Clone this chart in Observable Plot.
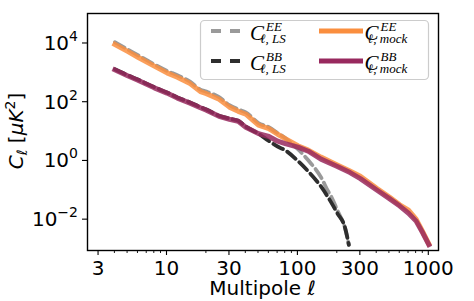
<!DOCTYPE html>
<html><head><meta charset="utf-8">
<script src="https://cdn.jsdelivr.net/npm/d3@7"></script>
<script src="https://cdn.jsdelivr.net/npm/@observablehq/plot@0.6"></script>
<style>
body{margin:0;background:#fff;}
#wrap{position:relative;width:474px;height:301px;}
</style></head><body><div id="wrap"></div>
<script>
// multipoles for the mock spectra
const ellMock = [4,5,6,8,10,12,15,18,20,25,30,35,40,50,60,70,80,100,120,150,200,250,300,400,500,600,700,800,900,1000];
const eeMock = [9.3e3,5.4e3,3.4e3,1.7e3,1000,710,430,230,195,126,68,49,39,16.6,12.6,8.1,5.75,3.3,2.34,1.35,0.72,0.45,0.30,0.117,0.059,0.032,0.021,0.0105,0.0038,0.0015];
const bbMock = [1260,794,562,309,204,138,93,64.6,53.7,33.1,26.3,22.4,14.1,8.5,6.8,4.7,3.9,2.95,2.14,1.15,0.65,0.40,0.25,0.102,0.052,0.029,0.0166,0.0089,0.0035,0.0014];
// large-scale spectra
const ellEELS = [4,5,6,8,10,12,15,18,20,25,30,35,40,50,60,70,80,90,100,120,150,170,180,200,230,245];
const eeLS = [1.1e4,6300,3980,1950,1170,830,500,268,229,148,79,57,45,19.5,14,8.9,6.0,3.8,2.51,1.05,0.28,0.093,0.060,0.021,0.0048,0.0014];
const ellBBLS = [4,5,6,8,10,12,15,18,20,25,30,35,40,50,60,70,80,100,120,150,180,200,230,245];
const bbLS = [1320,832,589,324,214,145,98,68,56,34.7,27.5,23.4,14.8,8.5,4.8,3.1,2.3,1.0,0.44,0.135,0.038,0.0166,0.0050,0.00138];

const xMajor = [3,10,30,100,300,1000];
const xMinor = [4,5,6,7,8,9,20,40,50,60,70,80,90,200,400,500,600,700,800,900];
const yMajor = [1e4,1e2,1e0,1e-2];
const xDomain = [2.47,1186];
const yDomain = [8.9e-4,1.05e5];

const colors = {"EE,LS":"#9a9a9a","BB,LS":"#2e2e2e","EE,mock":"#fa8e3e","BB,mock":"#98295e"};

const toRows = (ls, cs) => ls.map((l,i)=>({l, c:cs[i]}));
const rowsEEmock = toRows(ellMock, eeMock);
const rowsBBmock = toRows(ellMock, bbMock);
const rowsEELS = toRows(ellEELS, eeLS);
const rowsBBLS = toRows(ellBBLS, bbLS);

const sup = s => s.replace("-", "\u2212");

const svg = Plot.plot({
  width:474, height:301,
  marginLeft:87, marginRight:36, marginTop:13, marginBottom:51,
  style:{fontFamily:"DejaVu Sans", fontSize:"20px", color:"black", background:"white"},
  x:{type:"log", domain:xDomain, label:null, axis:null},
  y:{type:"log", domain:yDomain, label:null, axis:null},
  marks:[
    Plot.lineY(rowsEELS, {x:"l", y:"c", stroke:colors["EE,LS"], strokeWidth:3.8, strokeDasharray:"11,5", curve:"monotone-x"}),
    Plot.lineY(rowsBBLS, {x:"l", y:"c", stroke:colors["BB,LS"], strokeWidth:3.8, strokeDasharray:"11,5", curve:"monotone-x"}),
    Plot.lineY(rowsEEmock, {x:"l", y:"c", stroke:colors["EE,mock"], strokeWidth:5, strokeOpacity:0.85, strokeLinecap:"square"}),
    Plot.lineY(rowsBBmock, {x:"l", y:"c", stroke:colors["BB,mock"], strokeWidth:5, strokeOpacity:0.85, strokeLinecap:"square"}),
    Plot.frame({stroke:"black", strokeWidth:1.4})
  ]
});
document.getElementById("wrap").appendChild(svg);

const s = d3.select(svg);
const sx = svg.scale("x"), sy = svg.scale("y");
const X0 = 87, X1 = 474-36, Y0 = 13, Y1 = 301-51;
const ax = s.append("g").attr("font-family","DejaVu Sans");

// x ticks (minor + major) from Plot's x scale
for (const v of xMinor) {
  const px = sx.apply(v);
  ax.append("path").attr("d",`M${px},${Y1}V${Y1+3}`).attr("stroke","black").attr("stroke-width",0.9).attr("fill","none");
}
for (const v of xMajor) {
  const px = sx.apply(v);
  ax.append("path").attr("d",`M${px},${Y1}V${Y1+5}`).attr("stroke","black").attr("stroke-width",1.1).attr("fill","none");
  ax.append("text").attr("x",px).attr("y",Y1+25).attr("text-anchor","middle").attr("font-size",20).attr("fill","black").text(String(v));
}
// y ticks from Plot's y scale
for (const v of yMajor) {
  const py = sy.apply(v);
  const e = Math.round(Math.log10(v));
  ax.append("path").attr("d",`M${X0-5},${py}H${X0}`).attr("stroke","black").attr("stroke-width",1.1).attr("fill","none");
  const t = ax.append("text").attr("x",X0-9).attr("y",py+7).attr("text-anchor","end").attr("font-size",20).attr("fill","black");
  t.append("tspan").text("10");
  t.append("tspan").attr("dy",-9).attr("font-size",14).text(sup(String(e)));
}

// axis labels
const xl = s.append("text").attr("x",(X0+X1)/2).attr("y",295).attr("text-anchor","middle")
  .attr("font-family","DejaVu Sans").attr("font-size",20).attr("fill","black");
xl.append("tspan").text("Multipole ");
xl.append("tspan").attr("font-style","italic").text("ℓ");

const yl = s.append("text").attr("transform","translate(23,131) rotate(-90)").attr("text-anchor","middle")
  .attr("font-family","DejaVu Sans").attr("font-size",20).attr("fill","black");
yl.append("tspan").attr("font-style","italic").text("C");
yl.append("tspan").attr("font-style","italic").attr("font-size",14).attr("dy",4).text("ℓ");
yl.append("tspan").attr("dy",-4).text(" [");
yl.append("tspan").attr("font-style","italic").text("μK");
yl.append("tspan").attr("font-size",14).attr("dy",-8).text("2");
yl.append("tspan").attr("dy",8).text("]");

// legend
const lg = s.append("g");
lg.append("rect").attr("x",200.5).attr("y",20.5).attr("width",228).attr("height",59).attr("rx",4)
  .attr("fill","white").attr("fill-opacity",0.8).attr("stroke","#cccccc").attr("stroke-width",1.2);
const items = [
  {name:"EE,LS", hx:211, tx:257, row:0, dash:true, sup:"EE", sub:"ℓ, LS"},
  {name:"BB,LS", hx:211, tx:257, row:1, dash:true, sup:"BB", sub:"ℓ, LS"},
  {name:"EE,mock", hx:319, tx:371.5, row:0, dash:false, sup:"EE", sub:"ℓ, mock"},
  {name:"BB,mock", hx:319, tx:371.5, row:1, dash:false, sup:"BB", sub:"ℓ, mock"}
];
for (const it of items) {
  const cy = 31 + it.row*30;
  const hw = it.dash ? 30 : 44;
  lg.append("path").attr("d",`M${it.hx},${cy}H${it.hx+hw}`)
    .attr("stroke",colors[it.name]).attr("stroke-width",it.dash?3.8:5).attr("fill","none")
    .attr("stroke-dasharray",it.dash?"10,9":null);
  const base = cy + 9;
  lg.append("text").attr("x",it.tx).attr("y",base).attr("font-family","Liberation Serif")
    .attr("font-style","italic").attr("font-size",21).attr("fill","black").text("C");
  lg.append("text").attr("x",it.tx+17).attr("y",base-9.5).attr("font-family","Liberation Serif")
    .attr("font-style","italic").attr("font-size",13).attr("fill","black").text(it.sup);
  lg.append("text").attr("x",it.tx+16).attr("y",base+2.5).attr("font-family","Liberation Serif")
    .attr("font-style","italic").attr("font-size",13).attr("fill","black").text(it.sub);
}
</script>
</body></html>
